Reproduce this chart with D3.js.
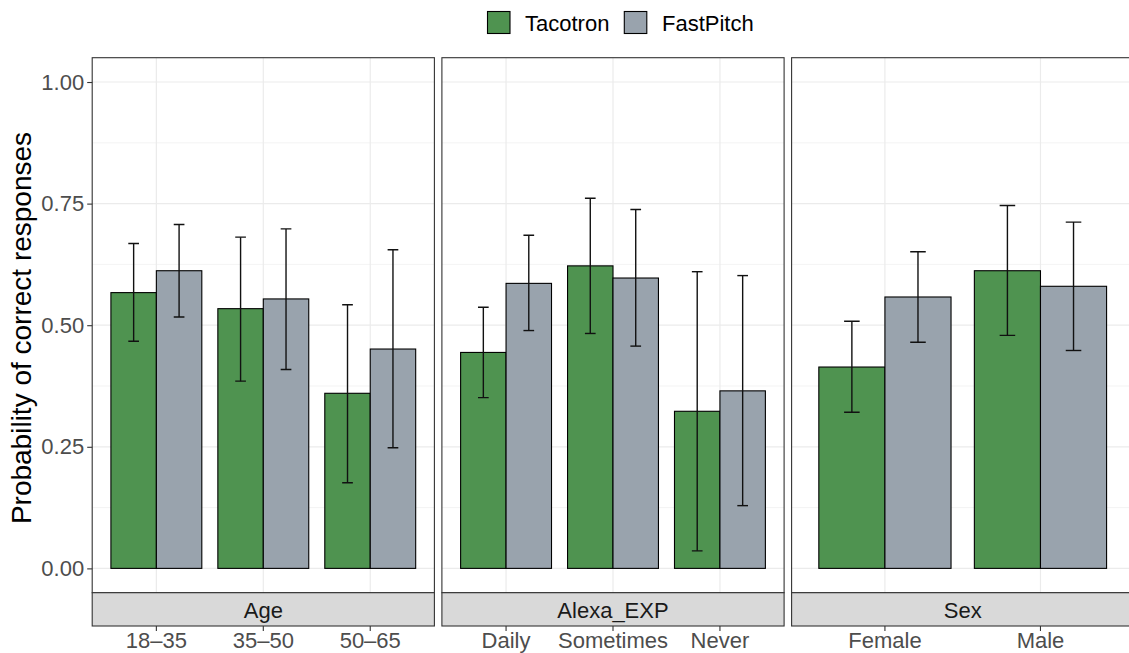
<!DOCTYPE html>
<html>
<head>
<meta charset="utf-8">
<script src="https://cdn.jsdelivr.net/npm/d3@7"></script>
<style>
  html, body { margin: 0; padding: 0; background: #fff; overflow: hidden; }
  svg { display: block; font-family: "Liberation Sans", Arial, Helvetica, sans-serif; }
</style>
</head>
<body>
<svg id="chart" width="1129" height="653"></svg>
<script>
// ---- data ----
const facets = ["Age", "Alexa_EXP", "Sex"];
const ageCats = ["18–35", "35–50", "50–65"];
const alexaCats = ["Daily", "Sometimes", "Never"];
const sexCats = ["Female", "Male"];
const series = ["Tacotron", "FastPitch"];

// values per facet, in category order
const tacotronMean = [[0.567, 0.534, 0.360], [0.444, 0.622, 0.323], [0.414, 0.612]];
const tacotronLow  = [[0.467, 0.385, 0.176], [0.351, 0.483, 0.036], [0.321, 0.479]];
const tacotronHigh = [[0.668, 0.681, 0.542], [0.537, 0.761, 0.610], [0.508, 0.746]];
const fastpitchMean = [[0.612, 0.554, 0.451], [0.586, 0.597, 0.365], [0.558, 0.580]];
const fastpitchLow  = [[0.517, 0.409, 0.248], [0.489, 0.457, 0.129], [0.465, 0.448]];
const fastpitchHigh = [[0.707, 0.698, 0.655], [0.685, 0.738, 0.602], [0.651, 0.712]];
const yTicks = [0, 0.25, 0.5, 0.75, 1.0];
const yMinor = [0.125, 0.375, 0.625, 0.875];

const facetCats = [ageCats, alexaCats, sexCats];
const colors = { Tacotron: "#4F9350", FastPitch: "#99A3AD" };

// ---- layout ----
const svg = d3.select("#chart");
const panelTop = 57.7, panelBottom = 592.7, stripBottom = 626;
const panelLefts = [92.2, 441.9, 791.6];
const panelW = 342.2;
const FS = 22;

const y = d3.scaleLinear().domain([-0.05, 1.05]).range([panelBottom, panelTop]);
const color = d3.scaleOrdinal().domain(series).range([colors.Tacotron, colors.FastPitch]);

facets.forEach((facet, fi) => {
  const x0 = panelLefts[fi];
  const cats = facetCats[fi];
  const x = d3.scaleBand().domain(cats).range([x0, x0 + panelW]).paddingInner(0.15).paddingOuter(0.175);
  const xs = d3.scaleBand().domain(series).range([0, x.bandwidth()]).padding(0);
  const g = svg.append("g");

  const clipId = "clip" + fi;
  svg.append("clipPath").attr("id", clipId).append("rect")
    .attr("x", x0).attr("y", panelTop).attr("width", panelW).attr("height", panelBottom - panelTop);
  const pg = g.append("g").attr("clip-path", `url(#${clipId})`);

  pg.selectAll("line.minor").data(yMinor).enter().append("line")
    .attr("x1", x0).attr("x2", x0 + panelW)
    .attr("y1", d => y(d)).attr("y2", d => y(d))
    .attr("stroke", "#EBEBEB").attr("stroke-width", 0.6);
  pg.selectAll("line.majory").data(yTicks).enter().append("line")
    .attr("x1", x0).attr("x2", x0 + panelW)
    .attr("y1", d => y(d)).attr("y2", d => y(d))
    .attr("stroke", "#EBEBEB").attr("stroke-width", 1.2);
  pg.selectAll("line.majorx").data(cats).enter().append("line")
    .attr("x1", d => x(d) + x.bandwidth() / 2).attr("x2", d => x(d) + x.bandwidth() / 2)
    .attr("y1", panelTop).attr("y2", panelBottom)
    .attr("stroke", "#EBEBEB").attr("stroke-width", 1.2);

  const rows = [];
  cats.forEach((c, ci) => {
    rows.push({ cat: c, s: "Tacotron", v: tacotronMean[fi][ci], lo: tacotronLow[fi][ci], hi: tacotronHigh[fi][ci] });
    rows.push({ cat: c, s: "FastPitch", v: fastpitchMean[fi][ci], lo: fastpitchLow[fi][ci], hi: fastpitchHigh[fi][ci] });
  });

  pg.selectAll("rect.bar").data(rows).enter().append("rect")
    .attr("x", d => x(d.cat) + xs(d.s))
    .attr("width", xs.bandwidth())
    .attr("y", d => y(d.v))
    .attr("height", d => y(0) - y(d.v))
    .attr("fill", d => color(d.s))
    .attr("stroke", "#000").attr("stroke-width", 1.1);

  const unit = x.step();
  const capHalf = 0.05 * unit;
  const cx = d => x(d.cat) + xs(d.s) + xs.bandwidth() / 2;
  const eb = pg.selectAll("g.eb").data(rows).enter().append("g")
    .attr("stroke", "#111").attr("stroke-width", 1.4);
  eb.append("line").attr("x1", cx).attr("x2", cx)
    .attr("y1", d => y(d.lo)).attr("y2", d => y(d.hi));
  eb.append("line").attr("x1", d => cx(d) - capHalf).attr("x2", d => cx(d) + capHalf)
    .attr("y1", d => y(d.hi)).attr("y2", d => y(d.hi));
  eb.append("line").attr("x1", d => cx(d) - capHalf).attr("x2", d => cx(d) + capHalf)
    .attr("y1", d => y(d.lo)).attr("y2", d => y(d.lo));

  g.append("rect").attr("x", x0).attr("y", panelTop).attr("width", panelW).attr("height", panelBottom - panelTop)
    .attr("fill", "none").attr("stroke", "#333333").attr("stroke-width", 1.1);

  g.append("rect").attr("x", x0).attr("y", panelBottom).attr("width", panelW).attr("height", stripBottom - panelBottom)
    .attr("fill", "#D9D9D9").attr("stroke", "#333333").attr("stroke-width", 1.1);
  g.append("text").attr("x", x0 + panelW / 2).attr("y", 618.3)
    .attr("text-anchor", "middle").attr("font-size", FS).attr("fill", "#1A1A1A").text(facet);

  const xAxis = g.append("g").attr("transform", `translate(0,${stripBottom})`)
    .call(d3.axisBottom(x).tickSize(5).tickPadding(1));
  xAxis.select(".domain").remove();
  xAxis.selectAll(".tick line").attr("stroke", "#333333").attr("stroke-width", 1.1);
  xAxis.selectAll(".tick text").attr("font-size", FS).attr("fill", "#4D4D4D")
    .attr("font-family", "Liberation Sans, Arial, sans-serif").attr("dy", "0.71em");
});

const yAxis = svg.append("g").attr("transform", `translate(${panelLefts[0]},0)`)
  .call(d3.axisLeft(y).tickValues(yTicks).tickFormat(d3.format(".2f")).tickSize(5).tickPadding(3));
yAxis.select(".domain").remove();
yAxis.selectAll(".tick line").attr("stroke", "#333333").attr("stroke-width", 1.1);
yAxis.selectAll(".tick text").attr("font-size", FS).attr("fill", "#4D4D4D")
  .attr("font-family", "Liberation Sans, Arial, sans-serif");

svg.append("text")
  .attr("transform", "translate(31,328) rotate(-90)")
  .attr("text-anchor", "middle").attr("font-size", 28).attr("fill", "#000")
  .text("Probability of correct responses");

const legendItems = [
  { s: "Tacotron", kx: 487.5, tx: 525 },
  { s: "FastPitch", kx: 624.3, tx: 662 }
];
const lg = svg.append("g");
lg.selectAll("rect").data(legendItems).enter().append("rect")
  .attr("x", d => d.kx).attr("y", 11.5).attr("width", 22.5).attr("height", 22)
  .attr("fill", d => color(d.s)).attr("stroke", "#000").attr("stroke-width", 1.1);
lg.selectAll("text").data(legendItems).enter().append("text")
  .attr("x", d => d.tx).attr("y", 31).attr("font-size", FS).attr("fill", "#000")
  .text(d => d.s);
</script>
</body>
</html>
